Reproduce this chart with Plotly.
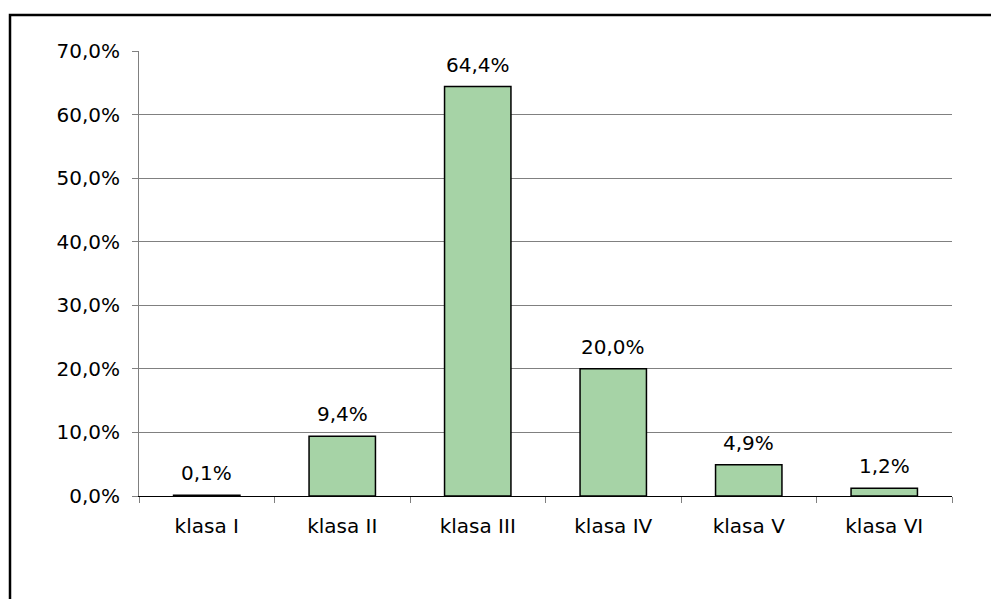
import plotly.graph_objects as go

categories = ["klasa I", "klasa II", "klasa III", "klasa IV", "klasa V", "klasa VI"]
values = [0.001, 0.094, 0.644, 0.200, 0.049, 0.012]
y_ticks = [0.0, 0.1, 0.2, 0.3, 0.4, 0.5, 0.6, 0.7]

W, H = 991, 591
L, R, T, B = 131, 47, 43, 103
pw, ph = W - L - R, H - T - B

font = "DejaVu Sans"
fs = 20

fig = go.Figure()
fig.add_trace(go.Bar(
    x=categories, y=values,
    marker=dict(color="#a6d3a6", line=dict(color="#000000", width=1.5)),
    width=0.49,
    hoverinfo="skip",
))

for c, v in zip(categories, values):
    fig.add_annotation(
        x=c, y=v, text=f"{v * 100:.1f}%".replace(".", ","),
        showarrow=False, yanchor="bottom", yshift=8,
        font=dict(family=font, size=fs, color="#000000"),
    )

fig.update_layout(
    width=W, height=H,
    margin=dict(l=L, r=R, t=T, b=B),
    paper_bgcolor="white", plot_bgcolor="white",
    separators=", ",
    showlegend=False,
    font=dict(family=font, size=fs, color="#000000"),
    xaxis=dict(
        type="category",
        showgrid=False,
        showline=True, linecolor="#000000", linewidth=1,
        ticks="outside", tickson="boundaries", ticklen=6, tickcolor="#808080",
        tickfont=dict(family=font, size=fs),
        ticklabelstandoff=12,
        range=[-0.5, 5.5],
    ),
    yaxis=dict(
        range=[0, 0.7],
        tickvals=y_ticks,
        tickformat=".1%",
        showgrid=True, gridcolor="#808080", gridwidth=1,
        showline=True, linecolor="#808080", linewidth=1,
        ticks="outside", ticklen=6, tickcolor="#808080",
        tickfont=dict(family=font, size=fs),
        zeroline=False,
        ticklabelstandoff=8,
    ),
    shapes=[dict(
        type="rect", xref="paper", yref="paper",
        x0=(2 - L) / pw, x1=1.3,
        y0=-0.5, y1=(H - B - 7) / ph,
        line=dict(color="#000000", width=2.5),
        layer="below",
    )],
)

fig.write_html("out.html")
